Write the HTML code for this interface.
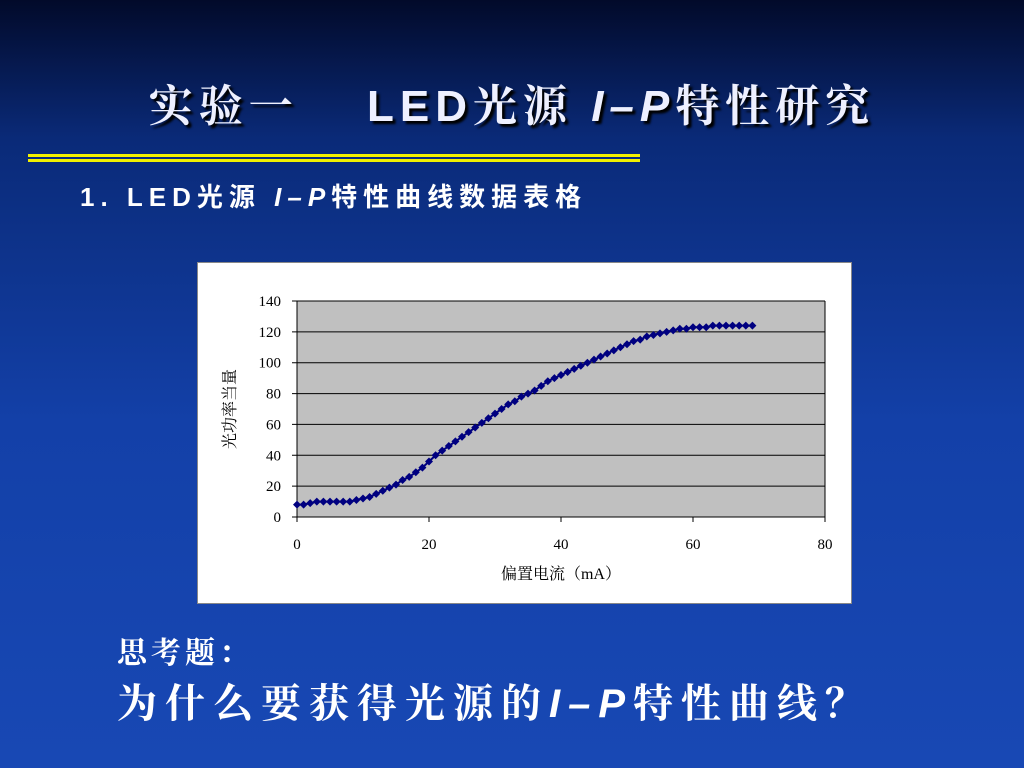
<!DOCTYPE html>
<html><head><meta charset="utf-8">
<style>
html,body{margin:0;padding:0}
body{width:1024px;height:768px;overflow:hidden;position:relative;
background:linear-gradient(180deg,#020a2a 0%,#0a2a78 18%,#1340a8 55%,#1848b4 100%);
font-family:"Liberation Sans","Noto Sans CJK SC",sans-serif;color:#fff}
.title{position:absolute;left:0;width:1024px;top:70px;text-align:center;font-size:44px;font-weight:bold;color:#eef0ff;text-shadow:3px 3px 2px #000;font-family:"Liberation Sans","Noto Serif CJK SC",sans-serif;letter-spacing:6px;white-space:nowrap}
.rule1{position:absolute;left:28px;top:154px;width:612px;height:3px;background:#f2f000}
.rule2{position:absolute;left:28px;top:159px;width:612px;height:3px;background:#f2f000}
.sub{position:absolute;left:80px;top:177px;font-size:26px;font-weight:bold;letter-spacing:6px;white-space:nowrap}
.q1{position:absolute;left:117px;top:628px;font-size:30px;font-weight:bold;letter-spacing:4px;font-family:"Liberation Serif","Noto Serif CJK SC",serif}
.q2{position:absolute;left:117px;top:672px;font-size:40px;font-weight:bold;letter-spacing:8px;white-space:nowrap;font-family:"Liberation Serif","Noto Serif CJK SC",serif}
.chart{position:absolute;left:197px;top:262px;width:653px;height:340px;background:#fff;border:1px solid #888}
</style></head><body>
<div class="title">实验一　 LED光源 <i>I–P</i>特性研究</div>
<div class="rule1"></div>
<div class="rule2"></div>
<div class="sub">1. LED光源 <i>I–P</i>特性曲线数据表格</div>
<div class="chart">
<svg id="svg" width="653" height="340" xmlns="http://www.w3.org/2000/svg" font-family="Liberation Serif,Noto Serif CJK SC,serif"></svg>
</div>
<div class="q1">思考题：</div>
<div class="q2">为什么要获得光源的<i style="font-family:'Liberation Sans',sans-serif">I–P</i>特性曲线？</div>
<script>
const xCategories=[0,1,2,3,4,5,6,7,8,9,10,11,12,13,14,15,16,17,18,19,20,21,22,23,24,25,26,27,28,29,30,31,32,33,34,35,36,37,38,39,40,41,42,43,44,45,46,47,48,49,50,51,52,53,54,55,56,57,58,59,60,61,62,63,64,65,66,67,68,69];
const powerValues=[8,8,9,10,10,10,10,10,10,11,12,13,15,17,19,21,24,26,29,32,36,40,43,46,49,52,55,58,61,64,67,70,73,75,78,80,82,85,88,90,92,94,96,98,100,102,104,106,108,110,112,114,115,117,118,119,120,121,122,122,123,123,123,124,124,124,124,124,124,124];
const xTicks=[0,20,40,60,80];
const yTicks=[0,20,40,60,80,100,120,140];
const svg=document.getElementById('svg');
const NS='http://www.w3.org/2000/svg';
const L=99,R=627,T=38,B=254;
const xs=v=>L+(v-0)/80*(R-L);
const ys=v=>B-(v/140)*(B-T);
function mk(t,a){const e=document.createElementNS(NS,t);for(const k in a)e.setAttribute(k,a[k]);svg.appendChild(e);return e;}
const bg=mk('rect',{x:L,y:T,width:R-L,height:B-T,fill:'#c0c0c0'});


yTicks.forEach(v=>{
 const g=mk('line',{x1:L-5,x2:R,y1:ys(v),y2:ys(v),stroke:'#000','stroke-width':1});
 
 
 const t=mk('text',{x:L-16,y:ys(v)+5,'text-anchor':'end','font-size':15,fill:'#000'});
 t.textContent=v;
 
 
});
xTicks.forEach(v=>{
 const g=mk('line',{x1:xs(v),x2:xs(v),y1:B,y2:B+5,stroke:'#000'});
 
 
 const t=mk('text',{x:xs(v),y:B+32,'text-anchor':'middle','font-size':15,fill:'#000'});
 t.textContent=v;
 
 
});
const ax=mk('path',{d:`M${L} ${T}V${B}H${R}V${T}`,fill:'none',stroke:'#000'});


const line=mk('polyline',{points:xCategories.map((x,i)=>xs(x)+','+ys(powerValues[i])).join(' '),fill:'none',stroke:'#000080','stroke-width':2});


xCategories.forEach((x,i)=>{
 const cx=xs(x),cy=ys(powerValues[i]);
 const p=mk('path',{d:`M${cx} ${cy-4}L${cx+4} ${cy}L${cx} ${cy+4}L${cx-4} ${cy}Z`,fill:'#000080'});
 
 
});
const xt=mk('text',{x:(L+R)/2,y:B+62,'text-anchor':'middle','font-size':16,fill:'#000'});
xt.textContent='偏置电流（mA）';


const yt=mk('text',{x:0,y:0,'text-anchor':'middle','font-size':16,fill:'#000',transform:`translate(37,${(T+B)/2}) rotate(-90)`});
yt.textContent='光功率当量';


</script>
</body></html>
